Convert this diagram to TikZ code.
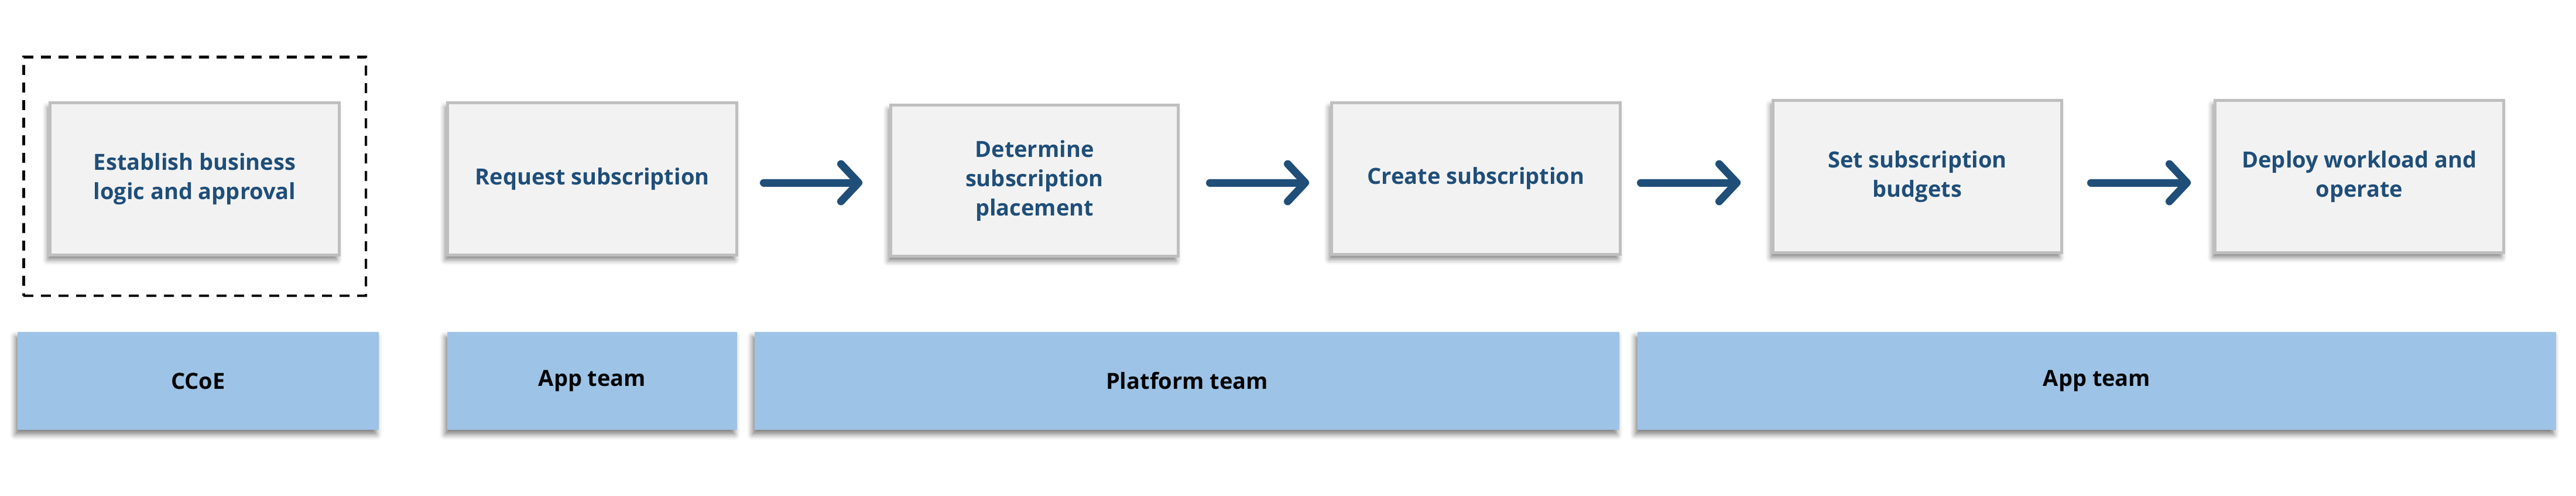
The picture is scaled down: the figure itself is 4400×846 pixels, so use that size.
\documentclass[tikz,border=0pt]{standalone}
\usepackage{fontspec}
\setmainfont{Open Sans}
\usetikzlibrary{arrows.meta,shadows.blur}
\definecolor{boxfill}{HTML}{F2F2F2}
\definecolor{boxline}{HTML}{BFBFBF}
\definecolor{navy}{HTML}{1F4E79}
\definecolor{barfill}{HTML}{9DC3E6}
\begin{document}
\begin{tikzpicture}[x=1pt,y=-1pt,
  stepbox/.style={rectangle, draw=boxline, line width=5pt, fill=boxfill,
    minimum width=494pt, minimum height=260pt, inner sep=0pt, align=center,
    text=navy, font=\fontsize{38}{50}\selectfont\bfseries,
    blur shadow={shadow xshift=-4pt, shadow yshift=-8pt, shadow blur radius=9pt, shadow opacity=50}},
  teambar/.style={rectangle, fill=barfill, minimum height=167pt, inner sep=0pt,
    text=black, font=\fontsize{38}{50}\selectfont\bfseries,
    blur shadow={shadow xshift=-4pt, shadow yshift=-8pt, shadow blur radius=9pt, shadow opacity=50}},
  flow/.style={draw=navy, line width=13pt, line cap=round,
    -{Straight Barb[length=30pt, width=64pt, round]}},
  frame/.style={rectangle, draw=black, line width=4.5pt, dash pattern=on 17pt off 13pt,
    minimum width=584.5pt, minimum height=407.5pt, inner sep=0pt}
]
\useasboundingbox (0,0) rectangle (4400,846);

\node[frame] (ccoeframe) at (332.5,301) {};

\node[stepbox] (b1) at (332.5,305.5) {Establish business\\logic and approval};
\node[stepbox] (b2) at (1011.5,305.5) {Request subscription};
\node[stepbox, minimum width=491pt, minimum height=258pt] (b3) at (1767,308.5) {Determine\\subscription\\placement};
\node[stepbox, minimum width=493pt, minimum height=259pt] (b4) at (2521,305) {Create subscription};
\node[stepbox, minimum width=493pt] (b5) at (3275,301.5) {Set subscription\\budgets};
\node[stepbox, minimum width=493pt] (b6) at (4030,301.5) {Deploy workload and\\operate};

\coordinate (ay) at (0,312);
\draw[flow, shorten <=43.5pt, shorten >=46pt] (b2.east |- ay) -- (b3.west |- ay);
\draw[flow, shorten <=51.5pt, shorten >=36pt] (b3.east |- ay) -- (b4.west |- ay);
\draw[flow, shorten <=32.5pt, shorten >=53pt] (b4.east |- ay) -- (b5.west |- ay);
\draw[flow, shorten <=47.5pt, shorten >=39pt] (b5.east |- ay) -- (b6.west |- ay);

\node[teambar, minimum width=617pt] (t1) at (338.5,650.5) {CCoE};
\node[teambar, minimum width=495pt] (t2) at (1011.5,650.5) {App team};
\node[teambar, minimum width=1477pt] (t3) at (2027.5,650.5) {Platform team};
\node[teambar, minimum width=1569pt] (t4) at (3581.5,650.5) {App team};
\end{tikzpicture}
\end{document}
